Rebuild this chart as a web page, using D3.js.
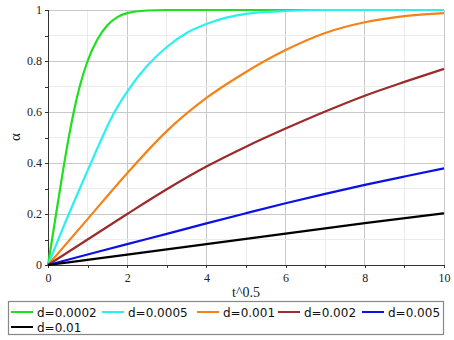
<!DOCTYPE html>
<html><head><meta charset="utf-8">
<script src="https://cdn.jsdelivr.net/npm/d3@7"></script>
<style>body{margin:0;background:#fff}svg{display:block}</style>
</head><body><svg id="c" width="454" height="340"></svg>
<script>
const seriesNames = ["d=0.0002","d=0.0005","d=0.001","d=0.002","d=0.005","d=0.01"];
const seriesColors = ["#1ee01e","#2af0f0","#f58216","#9c2b2b","#0a10e6","#000000"];
const xTicks = [0,2,4,6,8,10];
const yTicks = [0,0.2,0.4,0.6,0.8,1];
const d0002 = [[0,0],[0.25,0.245],[0.5,0.48],[0.65,0.6],[0.8,0.7],[1.0,0.8],[1.25,0.885],[1.5,0.94],[1.75,0.972],[2,0.988],[2.5,0.998],[3,1],[10,1]];
const d0005 = [[0,0],[0.5,0.19],[1,0.37],[1.34,0.49],[1.63,0.585],[2,0.68],[2.5,0.78],[3,0.855],[3.5,0.91],[4,0.945],[4.5,0.97],[5,0.985],[6,0.996],[7,1],[10,1]];
const d001 = [[0,0],[1,0.18],[2,0.36],[3,0.525],[4,0.655],[5,0.757],[6,0.843],[7,0.91],[8,0.952],[9,0.976],[10,0.988]];
const d002 = [[0,0],[1,0.1],[2,0.2],[3,0.297],[4,0.386],[5,0.464],[6,0.535],[7,0.602],[8,0.664],[9,0.718],[10,0.769]];
const d005 = [[0,0],[1,0.041],[2,0.082],[3,0.122],[4,0.163],[5,0.203],[6,0.242],[7,0.279],[8,0.314],[9,0.347],[10,0.379]];
const d01 = [[0,0],[2,0.041],[4,0.082],[6,0.123],[8,0.164],[10,0.203]];
const seriesData = [d0002,d0005,d001,d002,d005,d01];

const svg = d3.select("#c");
const L=48,R=444,T=10,B=265;
const x = d3.scaleLinear().domain([0,10]).range([L,R]);
const y = d3.scaleLinear().domain([0,1]).range([B,T]);

// grid
const g = svg.append("g");
d3.range(0,11,1).forEach(v=>{
  g.append("line").attr("x1",x(v)).attr("x2",x(v)).attr("y1",T).attr("y2",B)
   .attr("stroke", v%2===0 ? "#c8c8c8" : "#ebebeb").attr("stroke-width",1).attr("shape-rendering","crispEdges");
});
d3.range(0,11,1).forEach(i=>{
  const v=i/10;
  g.append("line").attr("x1",L).attr("x2",R).attr("y1",y(v)).attr("y2",y(v))
   .attr("stroke", i%2===0 ? "#c8c8c8" : "#ebebeb").attr("stroke-width",1).attr("shape-rendering","crispEdges");
});

// axes
const xAxis = d3.axisBottom(x).tickValues(d3.range(0,11,1)).tickSize(3)
  .tickFormat(d=> xTicks.includes(d) ? String(d) : "");
const yAxis = d3.axisLeft(y).tickValues(d3.range(0,11,1).map(i=>i/10)).tickSize(3)
  .tickFormat(d=> { const t = yTicks.find(v=>Math.abs(v-d)<1e-9); return t===undefined ? "" : String(t); });
const ax = svg.append("g").attr("transform",`translate(0,${B})`).call(xAxis);
const ay = svg.append("g").attr("transform",`translate(${L},0)`).call(yAxis);
[ax,ay].forEach(a=>{
  a.select(".domain").attr("stroke","#333").attr("shape-rendering","crispEdges");
  a.selectAll(".tick line").attr("stroke","#333").attr("shape-rendering","crispEdges");
  a.selectAll("text").attr("font-family","'Liberation Serif',serif").attr("font-size","12px").attr("fill","#222");
});
ax.select(".domain").attr("d",`M${L},0H${R}`);
ay.select(".domain").attr("d",`M0,${B}V${T}`);
ax.selectAll("text").attr("dy","0.9em");
ay.selectAll("text").attr("x",-6);

// curves
const line = d3.line().x(d=>x(d[0])).y(d=>y(d[1])).curve(d3.curveMonotoneX);
seriesData.forEach((s,i)=>{
  svg.append("path").attr("d",line(s)).attr("fill","none")
    .attr("stroke",seriesColors[i]).attr("stroke-width",2.2);
});

// axis titles
svg.append("text").attr("x",246).attr("y",297).attr("text-anchor","middle")
  .attr("font-family","'Liberation Serif',serif").attr("font-size","14px").attr("fill","#222").text("t^0.5");
svg.append("text").attr("transform","translate(20,137) rotate(-90)").attr("text-anchor","middle")
  .attr("font-family","'Liberation Serif',serif").attr("font-size","15px").attr("fill","#222").text("α");

// legend
svg.append("rect").attr("x",8.5).attr("y",301.5).attr("width",435).attr("height",33)
  .attr("fill","#fff").attr("stroke","#888").attr("stroke-width",1.2);
const legPos = [[11,312],[102,312],[197,312],[278,312],[362,312],[11,327]];
seriesNames.forEach((n,i)=>{
  const [lx,ly]=legPos[i];
  svg.append("line").attr("x1",lx).attr("x2",lx+22).attr("y1",ly).attr("y2",ly)
    .attr("stroke",seriesColors[i]).attr("stroke-width",2);
  svg.append("text").attr("x",lx+26).attr("y",ly+4.5)
    .attr("font-family","'DejaVu Sans',sans-serif").attr("font-size","12px").attr("fill","#111").text(n);
});
</script></body></html>
